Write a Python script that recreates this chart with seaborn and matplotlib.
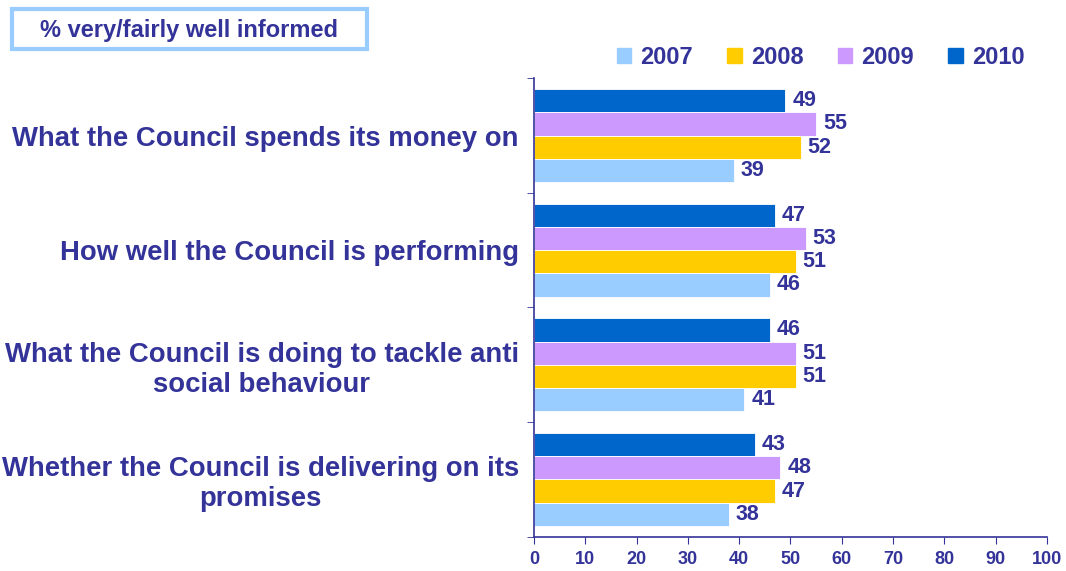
import pandas as pd
import matplotlib.pyplot as plt
import matplotlib.patches as mpatches
import seaborn as sns

# data
questions = [
    "What the Council spends its money on",
    "How well the Council is performing",
    "What the Council is doing to tackle anti\nsocial behaviour",
    "Whether the Council is delivering on its\npromises",
]
years = ["2007", "2008", "2009", "2010"]
pct_2007 = [39, 46, 41, 38]
pct_2008 = [52, 51, 51, 47]
pct_2009 = [55, 53, 51, 48]
pct_2010 = [49, 47, 46, 43]
year_colors = {"2007": "#99CCFF", "2008": "#FFCC00", "2009": "#CC99FF", "2010": "#0066CC"}
NAVY = "#333399"


def main():
    sns.set_style("white")
    plt.rcParams['font.family'] = ['Liberation Sans', 'DejaVu Sans']
    plt.rcParams['font.weight'] = 'bold'

    rows = []
    for yr, vals in zip(years, [pct_2007, pct_2008, pct_2009, pct_2010]):
        for q, v in zip(questions, vals):
            rows.append({'question': q, 'year': yr, 'pct': v})
    df = pd.DataFrame(rows)

    fig = plt.figure(figsize=(10.66, 5.71), dpi=100)
    ax = fig.add_axes([0.501, 0.06, 0.481, 0.803])
    sns.barplot(data=df, y='question', x='pct', hue='year', order=questions,
                hue_order=years[::-1], palette=year_colors, orient='h', saturation=1,
                width=0.81, edgecolor='white', linewidth=0.6, ax=ax)

    for cont in ax.containers:
        ax.bar_label(cont, padding=5, fontsize=15.5, fontweight='bold', color=NAVY)

    ax.set_xlim(0, 100)
    ax.set_ylim(3.5, -0.5)
    ax.set_xticks(range(0, 101, 10))
    ax.set_yticks([-0.5, 0.5, 1.5, 2.5, 3.5], minor=True)
    ax.tick_params(axis='y', which='major', length=0, pad=11, labelcolor=NAVY)
    ax.tick_params(axis='y', which='minor', length=5, color=NAVY, direction='out', left=True)
    ax.tick_params(axis='x', length=5, color=NAVY, direction='out', bottom=True,
                   labelcolor=NAVY, pad=5)
    for lbl in ax.get_yticklabels():
        lbl.set_multialignment('center')
        lbl.set_fontweight('bold')
        lbl.set_fontsize(19.8)
    for lbl in ax.get_xticklabels():
        lbl.set_fontweight('bold')
        lbl.set_fontsize(13)
    ax.set_xlabel("")
    ax.set_ylabel("")
    sns.despine(ax=ax)
    for side in ['left', 'bottom']:
        ax.spines[side].set_color(NAVY)
        ax.spines[side].set_linewidth(1.2)

    ax.get_legend().remove()
    handles = [mpatches.Patch(color=year_colors[y], label=y) for y in years]
    leg = fig.legend(handles=handles, loc='center', bbox_to_anchor=(0.770, 0.9), ncol=4,
                     frameon=False, fontsize=17, handlelength=0.6, handleheight=0.6,
                     handletextpad=0.4, columnspacing=1.45)
    for t in leg.get_texts():
        t.set_color(NAVY)
        t.set_fontweight('bold')

    # boxed heading in the top-left corner
    fig.patches.append(mpatches.Rectangle((0.011, 0.914), 0.333, 0.07, transform=fig.transFigure,
                                          fill=False, edgecolor='#99CCFF', linewidth=3))
    fig.text(0.177, 0.947, "% very/fairly well informed", ha='center', va='center',
             fontsize=17, fontweight='bold', color=NAVY)

    plt.savefig("out.png", dpi=100)
    plt.close('all')


if __name__ == "__main__":
    main()
